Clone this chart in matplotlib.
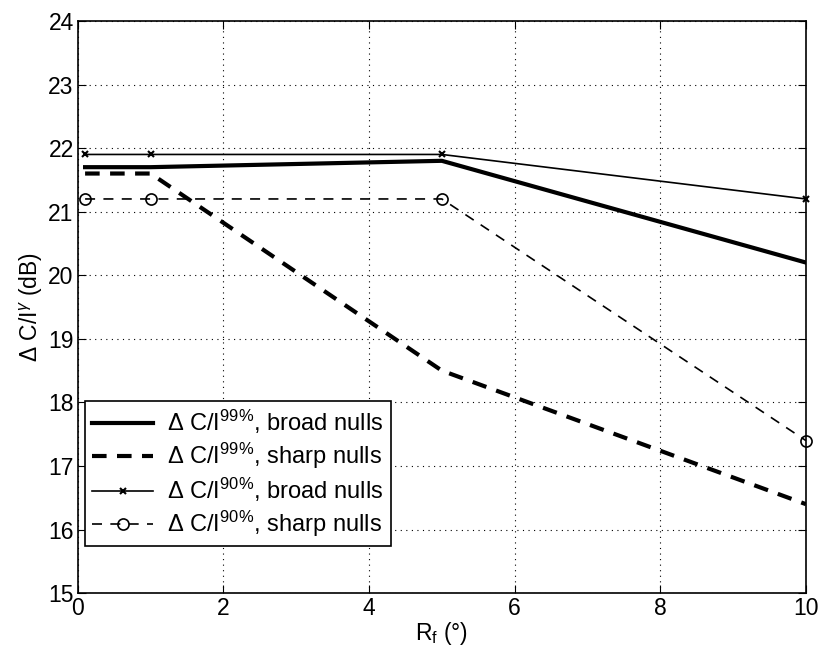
import numpy as np
import matplotlib
matplotlib.use('Agg')
import matplotlib.pyplot as plt

# data
rf = [0.1, 1, 5, 10]
ci99_broad = [21.7, 21.7, 21.8, 20.2]
ci99_sharp = [21.6, 21.6, 18.5, 16.4]
ci90_broad = [21.9, 21.9, 21.9, 21.2]
ci90_sharp = [21.2, 21.2, 21.2, 17.4]

plt.rcParams['font.family'] = ['Liberation Sans', 'DejaVu Sans']
plt.rcParams['font.size'] = 16
plt.rcParams['mathtext.fontset'] = 'custom'
plt.rcParams['mathtext.rm'] = 'Liberation Sans'
plt.rcParams['mathtext.it'] = 'Liberation Sans:italic'
plt.rcParams['mathtext.bf'] = 'Liberation Sans:bold'

fig = plt.figure(figsize=(8.19, 6.54), dpi=100)
ax = fig.add_axes([0.095, 0.093, 0.889, 0.875])

ax.plot(rf, ci99_broad, color='black', lw=3, ls='-', label=r'$\Delta$ C/I$^{99\%}$, broad nulls')
ax.plot(rf, ci99_sharp, color='black', lw=3, ls=(0, (3.5, 2.5)), label=r'$\Delta$ C/I$^{99\%}$, sharp nulls')
ax.plot(rf, ci90_broad, color='black', lw=1.2, ls='-', marker='x', ms=5, mew=1.5, clip_on=False,
        label=r'$\Delta$ C/I$^{90\%}$, broad nulls')
ax.plot(rf, ci90_sharp, color='black', lw=1.2, ls=(0, (6, 5)), marker='o', ms=8, mfc='none', mew=1.2,
        clip_on=False, label=r'$\Delta$ C/I$^{90\%}$, sharp nulls')

ax.set_xlim(0, 10)
ax.set_ylim(15, 24)
ax.set_xticks([0, 2, 4, 6, 8, 10])
ax.set_yticks(np.arange(15, 25, 1))
ax.grid(True, color='black', ls=(0, (1, 4)), lw=0.8)
ax.tick_params(direction='in', length=6, top=True, right=True, labelsize=16.5, pad=3)
for s in ax.spines.values():
    s.set_linewidth(1.2)

ax.set_xlabel(r'R$_\mathregular{f}$ (°)', fontsize=16.5, labelpad=0)
ax.set_ylabel(r'$\Delta$ C/I$^\gamma$ (dB)', fontsize=16.5, labelpad=2)

leg = ax.legend(loc='lower left', bbox_to_anchor=(0.0096, 0.082), borderaxespad=0, fontsize=17,
                fancybox=False, edgecolor='black', framealpha=1, handlelength=2.6, borderpad=0.3,
                labelspacing=0.2, handletextpad=0.6)
leg.get_frame().set_linewidth(1.2)

fig.savefig('out.png', dpi=100)
